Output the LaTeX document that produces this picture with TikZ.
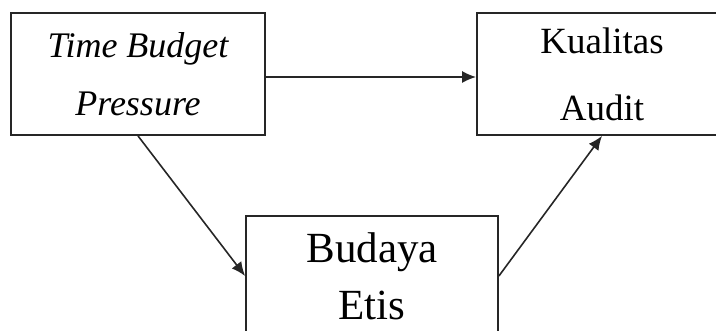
\documentclass[tikz,border=0pt]{standalone}
\usepackage{fontspec}
\setmainfont{Liberation Serif}
\usetikzlibrary{arrows.meta}

\begin{document}
\begin{tikzpicture}[x=0.5pt, y=-0.5pt,
varnode/.style={rectangle, draw=black!85, line width=0.9pt, align=center, inner sep=0pt},
linkarrow/.style={-{Latex[length=7pt,width=6pt]}, draw=black!85, line width=0.8pt},
]
\useasboundingbox (0,0) rectangle (716,331);
\clip (0,0) rectangle (716,331);
%Nodes
\node[varnode, minimum width=127pt, minimum height=61pt, font=\fontsize{18}{29}\selectfont\itshape] (budget) at (138,74) {Time Budget\\Pressure};
\node[varnode, minimum width=125pt, minimum height=61pt, font=\fontsize{18.5}{33.5}\selectfont] (kualitas) at (602,74) {Kualitas\\Audit};
\node[varnode, minimum width=126pt, minimum height=60pt, font=\fontsize{21.5}{28.5}\selectfont] (budaya) at (372,276) {Budaya\\Etis};

%Lines
\draw[linkarrow] ([yshift=-1.5pt]budget.east) -- ([yshift=-1.5pt]kualitas.west);
\draw[linkarrow] (budget.south) -- (budaya.west);
\draw[linkarrow] (budaya.east) -- (kualitas.south);
\end{tikzpicture}
\end{document}
